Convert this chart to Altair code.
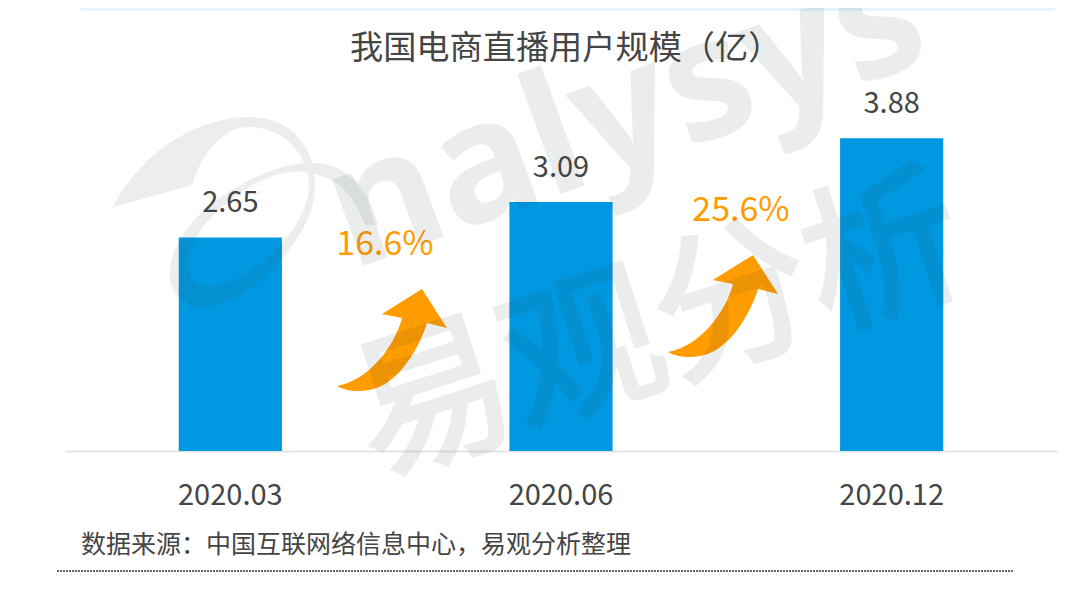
import altair as alt
import pandas as pd

FONT = "Noto Sans CJK SC"
TEXT = "#454545"
ORANGE = "#ff9c00"

periods = ["2020.03", "2020.06", "2020.12"]
users = [2.65, 3.09, 3.88]
growth_labels = ["16.6%", "25.6%"]
title_text = "我国电商直播用户规模（亿）"
source_text = "数据来源：中国互联网络信息中心，易观分析整理"
wm_latin = "nalysys"
wm_cjk = "易观分析"

df = pd.DataFrame({"period": periods, "users": users})

# page pixel -> plot coordinate (plot origin is at page 65,48)
def px(x):
    return x - 65
def py(y):
    return y - 48

x_enc = alt.X("period:N", sort=periods, title=None,
              scale=alt.Scale(paddingInner=0.688, paddingOuter=0.344),
              axis=alt.Axis(ticks=False, labelAngle=0, labelFontSize=29, labelColor=TEXT,
                            labelFont=FONT, labelPadding=30, domainColor="#e4e6e6",
                            domainWidth=2, grid=False))
y_enc = alt.Y("users:Q", title=None, axis=None, scale=alt.Scale(domain=[0, 5]))

bars = alt.Chart(df).mark_bar(color="#0098e0").encode(x=x_enc, y=y_enc)
values = alt.Chart(df).mark_text(font=FONT, fontSize=29, color=TEXT, baseline="middle", dy=-34).encode(
    x=x_enc, y=y_enc, text=alt.Text("users:Q", format=".2f"))

# Decorative glyphs: custom symbol paths, unit = 1px at size=4
ARROW = "M-55 46C-42 54,-20 52,-7 44C13 32,28 5,35 -17L55 -12L30 -51L-10 -26L10 -22C3 5,-22 40,-55 46Z"
SWOOSH = ("M-130 0C-100 -60,-40 -90,5 -90C50 -90,72 -60,72 -20C72 10,50 45,15 75"
          "C-15 100,-50 108,-66 88C-85 65,-65 20,-25 -8C10 -32,50 -50,85 -42"
          "C110 -36,128 -10,135 18L122 18C112 -8,100 -25,75 -32C50 -42,15 -30,-15 -5"
          "C-50 22,-62 55,-50 72C-35 88,-5 75,20 55C50 30,67 0,66 -25"
          "C62 -60,35 -80,5 -80C-30 -80,-50 -30,-50 -22Z")

def glyph(path, x, y, color, op=1.0):
    return alt.Chart(df.head(1)).mark_point(shape=path, size=4, filled=True, color=color,
                                             opacity=op, strokeWidth=0).encode(
        x=alt.value(px(x)), y=alt.value(py(y)))

def label(text, x, y, size, color, **kw):
    return alt.Chart(df.head(1)).mark_text(text=text, font=FONT, fontSize=size, color=color, **kw).encode(
        x=alt.value(px(x)), y=alt.value(py(y)))

arrow1 = glyph(ARROW, 392, 340, ORANGE)
arrow2 = glyph(ARROW, 723, 306, ORANGE)
g1 = label(growth_labels[0], 385, 245, 34, ORANGE, baseline="middle", align="center")
g2 = label(growth_labels[1], 741, 211, 34, ORANGE, baseline="middle", align="center")
head = label(title_text, 350, 49, 33.2, TEXT, baseline="middle", align="left")

source = label(source_text, 81, 545, 25, TEXT, baseline="middle", align="left")
dotted = alt.Chart(df.head(1)).mark_rule(color="#666666", strokeWidth=2, strokeDash=[2, 1]).encode(
    x=alt.value(px(57)), x2=alt.value(px(1014)), y=alt.value(py(571)))
banner = alt.Chart(df.head(1)).mark_rect(color="#e5f4fd", cornerRadiusBottomLeft=4,
                                         cornerRadiusBottomRight=4).encode(
    x=alt.value(px(80)), x2=alt.value(px(1055)), y=alt.value(py(8)), y2=alt.value(py(11)))

WM = "#2f3f3f"
WM_OP = 0.09
swoosh = glyph(SWOOSH, 243, 207, WM, WM_OP)
wm1 = alt.Chart(df.head(1)).mark_text(text=wm_latin, font="Noto Sans", fontSize=168, fontWeight="bold", color=WM,
                                      opacity=WM_OP, angle=340, align="left", baseline="alphabetic").encode(
    x=alt.value(px(352)), y=alt.value(py(270)))
wm2 = alt.Chart(df.head(1)).mark_text(text=wm_cjk, font=FONT, fontSize=158, fontWeight="normal", color=WM,
                                      stroke=WM, strokeWidth=4,
                                      opacity=WM_OP, angle=342, align="center", baseline="middle").encode(
    x=alt.value(px(660)), y=alt.value(py(332)))

chart = alt.layer(banner, head, bars, values, arrow1, arrow2, g1, g2, source, dotted, swoosh, wm1, wm2).properties(
    width=992, height=403, autosize="none", background="white",
    padding={"left": 57, "top": 40, "right": 12, "bottom": 137},
).configure_view(strokeWidth=0)

chart.save("out.html", embed_options={"renderer": "svg", "actions": False})
